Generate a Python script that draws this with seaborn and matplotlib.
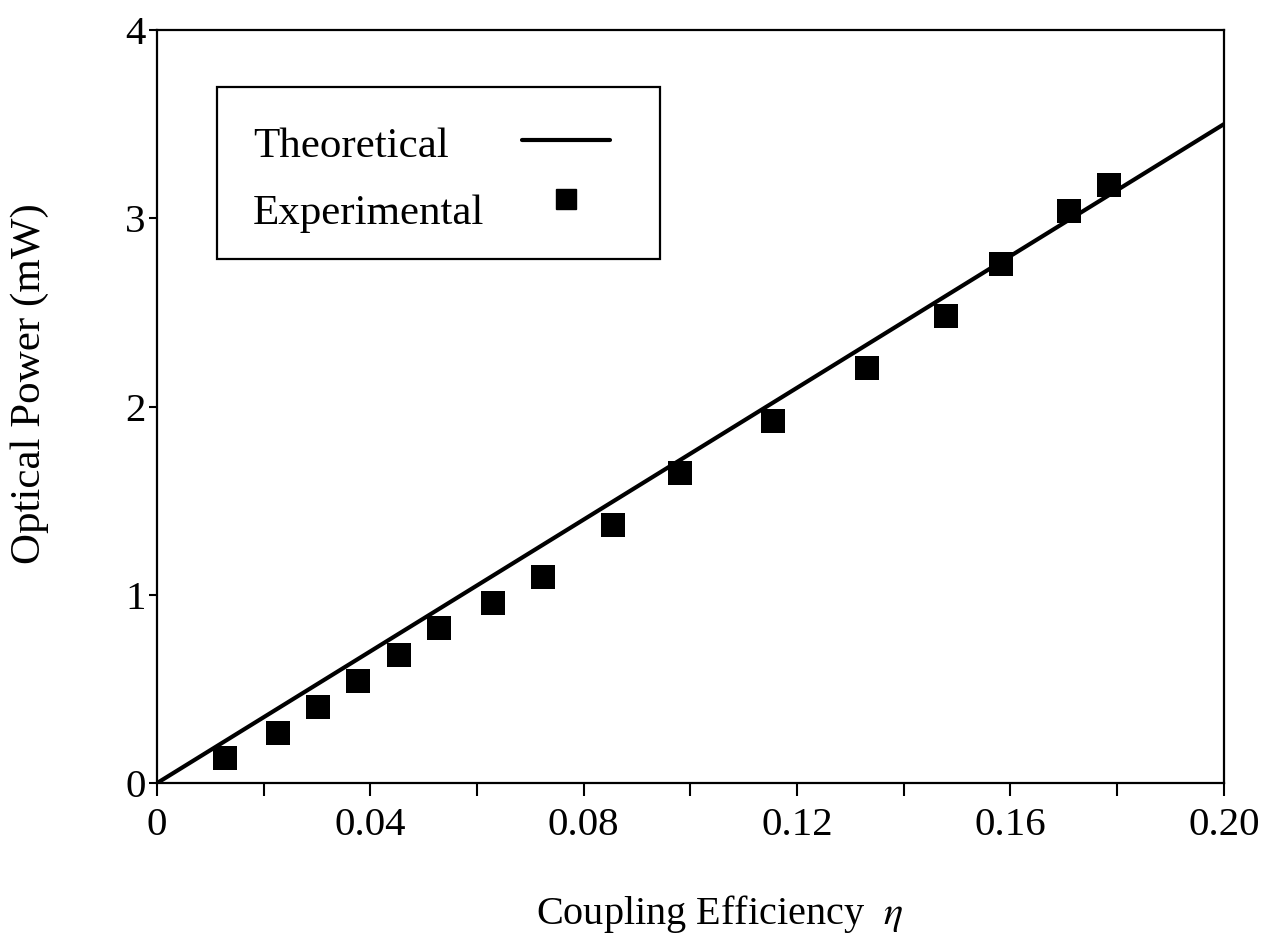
import matplotlib
matplotlib.use("Agg")
import matplotlib.pyplot as plt
from matplotlib.lines import Line2D
from matplotlib.patches import Rectangle
import seaborn as sns
import pandas as pd

# Measured optical power versus coupling efficiency
eta_exp = [0.0128, 0.0227, 0.0302, 0.0377, 0.0453, 0.0528, 0.0629, 0.0723,
           0.0854, 0.0980, 0.1155, 0.1331, 0.1480, 0.1583, 0.1709, 0.1784]
power_exp = [0.133, 0.266, 0.404, 0.542, 0.680, 0.823, 0.956, 1.094,
             1.371, 1.647, 1.923, 2.204, 2.481, 2.757, 3.039, 3.177]

# Theoretical linear relation (end points)
eta_theory = [0.0, 0.20]
power_theory = [0.0, 3.50]

x_tick_labels = ["0", "", "0.04", "", "0.08", "", "0.12", "", "0.16", "", "0.20"]
y_ticks = [0, 1, 2, 3, 4]
legend_labels = ["Theoretical", "Experimental"]

sns.set_theme(style="ticks")
plt.rcParams["font.family"] = ["Liberation Serif", "DejaVu Serif"]
plt.rcParams["mathtext.fontset"] = "stix"
plt.rcParams["text.color"] = "black"
plt.rcParams["axes.labelcolor"] = "black"
plt.rcParams["xtick.color"] = "black"
plt.rcParams["ytick.color"] = "black"

FS_TICK = 29.5
FS_XLABEL = 29
FS_YLABEL = 31
FS_KEY = 31

fig = plt.figure(figsize=(12.63, 9.39), dpi=100)
ax = fig.add_axes([0.1243, 0.166, 0.8447, 0.802])

df_exp = pd.DataFrame({"eta": eta_exp, "power": power_exp})
df_th = pd.DataFrame({"eta": eta_theory, "power": power_theory})

sns.lineplot(data=df_th, x="eta", y="power", ax=ax, color="black",
             linewidth=3.0, legend=False)
sns.scatterplot(data=df_exp, x="eta", y="power", ax=ax, marker="s",
                s=290, color="black", edgecolor="black", linewidth=0,
                legend=False, zorder=3)

ax.set_xlim(0, 0.20)
ax.set_ylim(0, 4)
ax.set_xticks([0.02 * i for i in range(11)])
ax.set_xticklabels(x_tick_labels)
ax.set_yticks(y_ticks)
ax.set_yticklabels([str(v) for v in y_ticks])

ax.tick_params(axis="x", direction="out", length=9, width=1.5,
               labelsize=FS_TICK, pad=8)
ax.tick_params(axis="y", direction="out", length=6, width=1.5,
               labelsize=FS_TICK, pad=2)
for sp in ax.spines.values():
    sp.set_visible(True)
    sp.set_linewidth(1.6)
    sp.set_color("black")

ax.set_xlabel(r"Coupling Efficiency  $\eta$", fontsize=FS_XLABEL)
ax.set_ylabel("Optical Power (mW)", fontsize=FS_YLABEL)
ax.yaxis.set_label_coords(-0.101, 0.53)
ax.xaxis.set_label_coords(0.527, -0.146)

# Boxed key: labels on the left, sample marks on the right
ta = ax.transAxes
ax.add_patch(Rectangle((0.0562, 0.6959), 0.4152, 0.2284, transform=ta,
                       facecolor="white", edgecolor="black", linewidth=1.6,
                       zorder=4))
ax.text(0.090, 0.8313, legend_labels[0], transform=ta, fontsize=FS_KEY,
        ha="left", va="baseline", zorder=5)
ax.text(0.090, 0.7424, legend_labels[1], transform=ta, fontsize=FS_KEY,
        ha="left", va="baseline", zorder=5)
ax.add_line(Line2D([0.342, 0.4246], [0.854, 0.854], transform=ta,
                   color="black", linewidth=3.0, zorder=5))
ax.add_line(Line2D([0.3833], [0.7756], transform=ta, color="black",
                   marker="s", markersize=14, linestyle="none", zorder=5))

fig.savefig("out.png", dpi=100, facecolor="white")
